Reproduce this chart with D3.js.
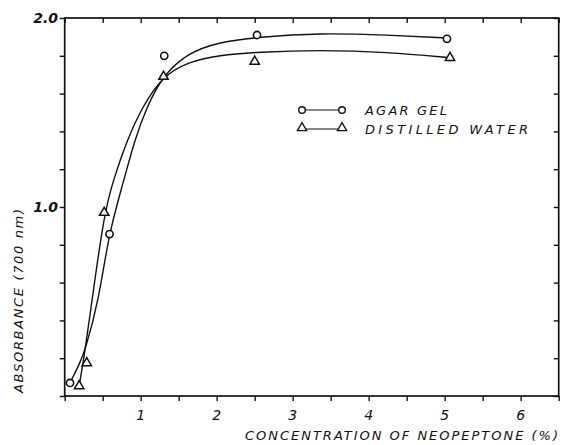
<!DOCTYPE html>
<html><head><meta charset="utf-8">
<script src="https://cdn.jsdelivr.net/npm/d3@7"></script>
<style>
html,body{margin:0;padding:0;background:#fff;}
svg{display:block;}
text{font-family:"DejaVu Sans","Liberation Sans",sans-serif;font-style:italic;fill:#111;}
</style></head>
<body>
<svg id="chart" width="563" height="445"></svg>
<script>
// Measured points
const agarX = [0.07, 0.59, 1.31, 2.53, 5.03];
const agarY = [0.069, 0.857, 1.80, 1.91, 1.89];
const waterX = [0.19, 0.29, 0.52, 1.30, 2.50, 5.07];
const waterY = [0.053, 0.175, 0.97, 1.69, 1.77, 1.79];
// Hand-drawn fitted curves
const agarFitX = [0.07, 0.20, 0.27, 0.45, 0.58, 0.78, 0.92, 1.08, 1.28, 1.61, 2.04, 2.53, 3.36, 4.24, 5.03];
const agarFitY = [0.069, 0.175, 0.243, 0.508, 0.862, 1.143, 1.354, 1.529, 1.688, 1.815, 1.873, 1.899, 1.921, 1.910, 1.894];
const waterFitX = [0.19, 0.27, 0.36, 0.52, 0.64, 0.82, 1.02, 1.28, 1.61, 2.04, 2.53, 3.36, 4.24, 5.07];
const waterFitY = [0.053, 0.243, 0.508, 0.968, 1.143, 1.354, 1.529, 1.688, 1.767, 1.804, 1.820, 1.831, 1.820, 1.790];
const xTickLabels = [1, 2, 3, 4, 5, 6];
const yTickLabels = [1.0, 2.0];
const legendLabels = ["AGAR GEL", "DISTILLED WATER"];

(function () {
const svg = d3.select("#chart");
const x = d3.scaleLinear().domain([0, 6.5]).range([64.7, 558.7]);
const y = d3.scaleLinear().domain([0, 2.0]).range([396, 18]);
const ink = "#111";

const g = svg.append("g");
// Frame
g.append("rect").attr("x", x(0)).attr("y", y(2)).attr("width", x(6.5) - x(0)).attr("height", y(0) - y(2))
  .attr("fill", "none").attr("stroke", ink).attr("stroke-width", 1.7);

const xTicks = d3.range(0, 6.51, 0.5);
const yTicks = d3.range(0, 2.01, 0.2);

const axBottom = g.append("g").attr("transform", `translate(0,${y(0)})`)
  .call(d3.axisBottom(x).tickValues(xTicks).tickSize(5).tickSizeOuter(0).tickFormat(""));
const axTop = g.append("g").attr("transform", `translate(0,${y(2)})`)
  .call(d3.axisBottom(x).tickValues(xTicks).tickSize(5).tickSizeOuter(0).tickFormat(""));
const axLeft = g.append("g").attr("transform", `translate(${x(0)},0)`)
  .call(d3.axisLeft(y).tickValues(yTicks).tickSize(5).tickSizeOuter(0).tickFormat(""));
const axRight = g.append("g").attr("transform", `translate(${x(6.5)},0)`)
  .call(d3.axisLeft(y).tickValues(yTicks).tickSize(5).tickSizeOuter(0).tickFormat(""));
[axBottom, axTop, axLeft, axRight].forEach(a => {
  a.select(".domain").remove();
  a.selectAll("line").attr("stroke", ink).attr("stroke-width", 1.4);
});

// Tick labels
g.selectAll(".xl").data(xTickLabels).enter().append("text")
  .attr("x", d => x(d)).attr("y", 420).attr("text-anchor", "middle")
  .attr("font-size", 14).text(d => d);
g.selectAll(".yl").data(yTickLabels).enter().append("text")
  .attr("x", 58).attr("y", d => y(d) + 5).attr("text-anchor", "end")
  .attr("font-size", 14).attr("font-weight", "bold").text(d => d.toFixed(1));

// Axis titles
g.append("text").attr("x", 245).attr("y", 440).attr("font-size", 13)
  .attr("textLength", 313).attr("lengthAdjust", "spacing")
  .text("CONCENTRATION OF NEOPEPTONE (%)");
g.append("text").attr("transform", "translate(23,393) rotate(-90)").attr("font-size", 13)
  .attr("textLength", 184).attr("lengthAdjust", "spacing")
  .text("ABSORBANCE (700 nm)");

// Curves
const line = d3.line().x(d => x(d[0])).y(d => y(d[1])).curve(d3.curveBasis);
g.append("path").datum(agarFitX.map((v, i) => [v, agarFitY[i]]))
  .attr("d", line).attr("fill", "none").attr("stroke", ink).attr("stroke-width", 1.4);
g.append("path").datum(waterFitX.map((v, i) => [v, waterFitY[i]]))
  .attr("d", line).attr("fill", "none").attr("stroke", ink).attr("stroke-width", 1.4);

// Markers
const tri = d3.symbol().type(d3.symbolTriangle).size(38);
g.selectAll(".ag").data(agarX.map((v, i) => [v, agarY[i]])).enter().append("circle")
  .attr("cx", d => x(d[0])).attr("cy", d => y(d[1])).attr("r", 3.6)
  .attr("fill", "#fff").attr("stroke", ink).attr("stroke-width", 1.6);
g.selectAll(".wa").data(waterX.map((v, i) => [v, waterY[i]])).enter().append("path")
  .attr("d", tri).attr("transform", d => `translate(${x(d[0])},${y(d[1])})`)
  .attr("fill", "#fff").attr("stroke", ink).attr("stroke-width", 1.5);

// Legend
const lg = g.append("g");
[0, 1].forEach(i => {
  const ly = 110 + i * 19;
  lg.append("line").attr("x1", 302).attr("x2", 342).attr("y1", ly).attr("y2", ly)
    .attr("stroke", ink).attr("stroke-width", 1);
  [302, 342].forEach(px => {
    if (i === 0) lg.append("circle").attr("cx", px).attr("cy", ly).attr("r", 3.3)
      .attr("fill", "#fff").attr("stroke", ink).attr("stroke-width", 1.4);
    else lg.append("path").attr("d", tri).attr("transform", `translate(${px},${ly - 1})`)
      .attr("fill", "#fff").attr("stroke", ink).attr("stroke-width", 1.3);
  });
  lg.append("text").attr("x", 365).attr("y", ly + 5).attr("font-size", 13)
    .attr("textLength", i === 0 ? 82 : 163).attr("lengthAdjust", "spacing")
    .text(legendLabels[i]);
});
})();
</script>
</body></html>
